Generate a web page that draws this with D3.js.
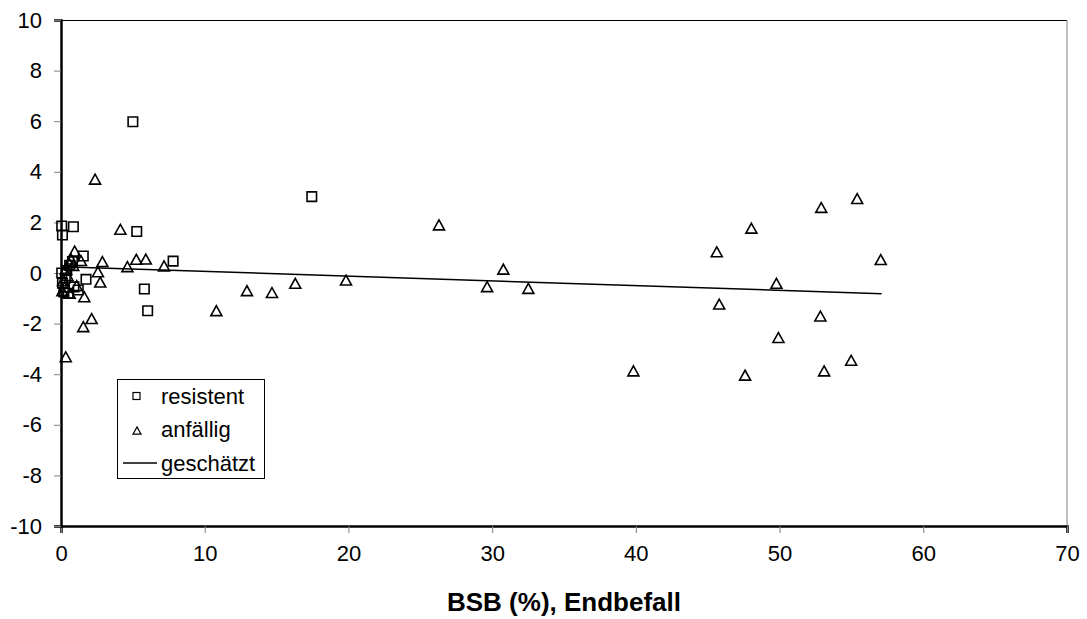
<!DOCTYPE html>
<html>
<head>
<meta charset="utf-8">
<script src="https://cdn.jsdelivr.net/npm/d3@7"></script>
<style>
  body { margin: 0; background: #fff; }
  text { font-family: "Liberation Sans", Arial, sans-serif; }
</style>
</head>
<body>
<svg id="chart"></svg>
<script>
// size of our space
var screenWidth = 1087,
    screenHeight = 619,
    margin = {"top": 20, "bottom": 93, "left": 61, "right": 20},
    canvasWidth = screenWidth - margin.left - margin.right,
    canvasHeight = screenHeight - margin.top - margin.bottom;

// resistent (squares)
var resX = [5.0, 17.45, 0.05, 0.86, 0.1, 5.27, 1.55, 7.8, 1.74, 5.8, 6.03,
            0.05, 0.1, 0.2, 0.5, 0.4, 0.6, 0.8, 0.3, 0.9, 1.2];
var resY = [5.98, 3.02, 1.86, 1.83, 1.5, 1.64, 0.67, 0.47, -0.25, -0.63, -1.49,
            0.0, -0.4, -0.75, -0.8, 0.1, 0.3, 0.45, -0.2, -0.55, -0.67];

// anfällig (triangles)
var anfX = [2.37, 4.13, 0.95, 2.88, 4.62, 5.24, 5.9, 7.17, 2.57, 2.73, 1.62, 2.13, 1.55, 0.33,
            1.39, 1.09, 0.1, 0.25, 0.35, 0.55, 0.7, 0.45, 0.15, 0.6, 0.85,
            10.81, 12.94, 14.68, 16.3, 19.83,
            26.3, 30.78, 29.65, 32.52, 39.83,
            45.63, 45.8, 47.6, 48.04, 49.78, 49.92, 52.84, 52.9, 53.1, 54.98, 55.4, 57.04];
var anfY = [3.71, 1.73, 0.87, 0.45, 0.25, 0.54, 0.55, 0.28, 0.05, -0.36, -0.94, -1.8, -2.12, -3.31,
            0.49, -0.5, -0.7, -0.55, 0.15, 0.4, 0.55, -0.1, -0.3, -0.8, 0.3,
            -1.49, -0.7, -0.77, -0.41, -0.28,
            1.9, 0.15, -0.54, -0.61, -3.87,
            0.84, -1.23, -4.04, 1.77, -0.41, -2.55, -1.7, 2.59, -3.87, -3.45, 2.94, 0.53];

// geschätzt (fitted line)
var fitX = [0, 57.1];
var fitY = [0.25, -0.82];

var xTicks = [0, 10, 20, 30, 40, 50, 60, 70];
var yTicks = [-10, -8, -6, -4, -2, 0, 2, 4, 6, 8, 10];
var legendLabels = ["resistent", "anfällig", "geschätzt"];

var xScale = d3.scaleLinear().domain([0, 70]).range([0, canvasWidth]),
    yScale = d3.scaleLinear().domain([-10, 10]).range([canvasHeight, 0]);

var svg = d3.select('#chart')
            .attr('width', screenWidth)
            .attr('height', screenHeight);

var g = svg.append('g')
           .attr('transform', 'translate(' + margin.left + ',' + margin.top + ')');

// plot area border (top black, right gray)
g.append('line')
 .attr('x1', 0).attr('x2', canvasWidth).attr('y1', 0.5).attr('y2', 0.5)
 .attr('stroke', '#000').attr('stroke-width', 1);
g.append('line')
 .attr('x1', canvasWidth).attr('x2', canvasWidth).attr('y1', 0).attr('y2', canvasHeight)
 .attr('stroke', '#808080').attr('stroke-width', 1);

// axes (plain hyphen for negatives, as in the original)
var fmt = function(d) { return String(d); };
var xAxis = d3.axisBottom(xScale).tickValues(xTicks).tickSize(7).tickPadding(12).tickFormat(fmt);
var yAxis = d3.axisLeft(yScale).tickValues(yTicks).tickSize(7).tickPadding(12).tickFormat(fmt);

var gx = g.append('g')
  .attr('transform', 'translate(0,' + canvasHeight + ')')
  .call(xAxis);
var gy = g.append('g').call(yAxis);

[gx, gy].forEach(function(a) {
  a.select('.domain').attr('stroke', '#000').attr('stroke-width', 2.5);
  a.selectAll('.tick line').attr('stroke', '#808080').attr('stroke-width', 1);
  a.selectAll('.tick text').attr('fill', '#000').style('font-size', '22px');
});

// x axis label
svg.append('text')
   .attr('x', margin.left + canvasWidth / 2)
   .attr('y', 611)
   .style('text-anchor', 'middle')
   .style('font-size', '26px')
   .style('font-weight', 'bold')
   .text('BSB (%), Endbefall');

// fitted line
var line = d3.line()
  .x(function(d) { return xScale(d[0]); })
  .y(function(d) { return yScale(d[1]); });
g.append('path')
 .datum(d3.zip(fitX, fitY))
 .attr('d', line)
 .attr('fill', 'none')
 .attr('stroke', '#000')
 .attr('stroke-width', 1.5);

var sq = d3.symbol().type(d3.symbolSquare).size(90);
var tri = function(s) {
  // open triangle, width s
  var h = s * 0.9;
  return 'M0,' + (-h / 2) + 'L' + (s / 2) + ',' + (h / 2) + 'L' + (-s / 2) + ',' + (h / 2) + 'Z';
};

g.selectAll('.res')
 .data(d3.zip(resX, resY))
 .enter().append('path')
 .attr('class', 'res')
 .attr('d', sq)
 .attr('transform', function(d) { return 'translate(' + xScale(d[0]) + ',' + yScale(d[1]) + ')'; })
 .attr('fill', 'none')
 .attr('stroke', '#000')
 .attr('stroke-width', 1.6);

g.selectAll('.anf')
 .data(d3.zip(anfX, anfY))
 .enter().append('path')
 .attr('class', 'anf')
 .attr('d', tri(11))
 .attr('transform', function(d) { return 'translate(' + xScale(d[0]) + ',' + yScale(d[1]) + ')'; })
 .attr('fill', 'none')
 .attr('stroke', '#000')
 .attr('stroke-width', 1.6);

// legend
var leg = svg.append('g').attr('transform', 'translate(117,379)');
leg.append('rect')
   .attr('x', 0.5).attr('y', 0.5).attr('width', 147).attr('height', 99)
   .attr('fill', '#fff').attr('stroke', '#000').attr('stroke-width', 1);

var rows = leg.selectAll('.row')
  .data(legendLabels)
  .enter().append('g')
  .attr('transform', function(d, i) { return 'translate(0,' + (17 + i * 33.5) + ')'; });

rows.append('text')
    .attr('x', 44).attr('y', 0).attr('dy', '0.35em')
    .style('font-size', '22px')
    .text(function(d) { return d; });

rows.filter(function(d, i) { return i === 0; })
    .append('rect')
    .attr('x', 16).attr('y', -3.5).attr('width', 7).attr('height', 7)
    .attr('fill', 'none').attr('stroke', '#000').attr('stroke-width', 1.2);
rows.filter(function(d, i) { return i === 1; })
    .append('path')
    .attr('d', tri(8))
    .attr('transform', 'translate(20,1)')
    .attr('fill', 'none').attr('stroke', '#000').attr('stroke-width', 1.2);
rows.filter(function(d, i) { return i === 2; })
    .append('line')
    .attr('x1', 6).attr('x2', 40).attr('y1', 0).attr('y2', 0)
    .attr('stroke', '#000').attr('stroke-width', 1.5);
</script>
</body>
</html>
